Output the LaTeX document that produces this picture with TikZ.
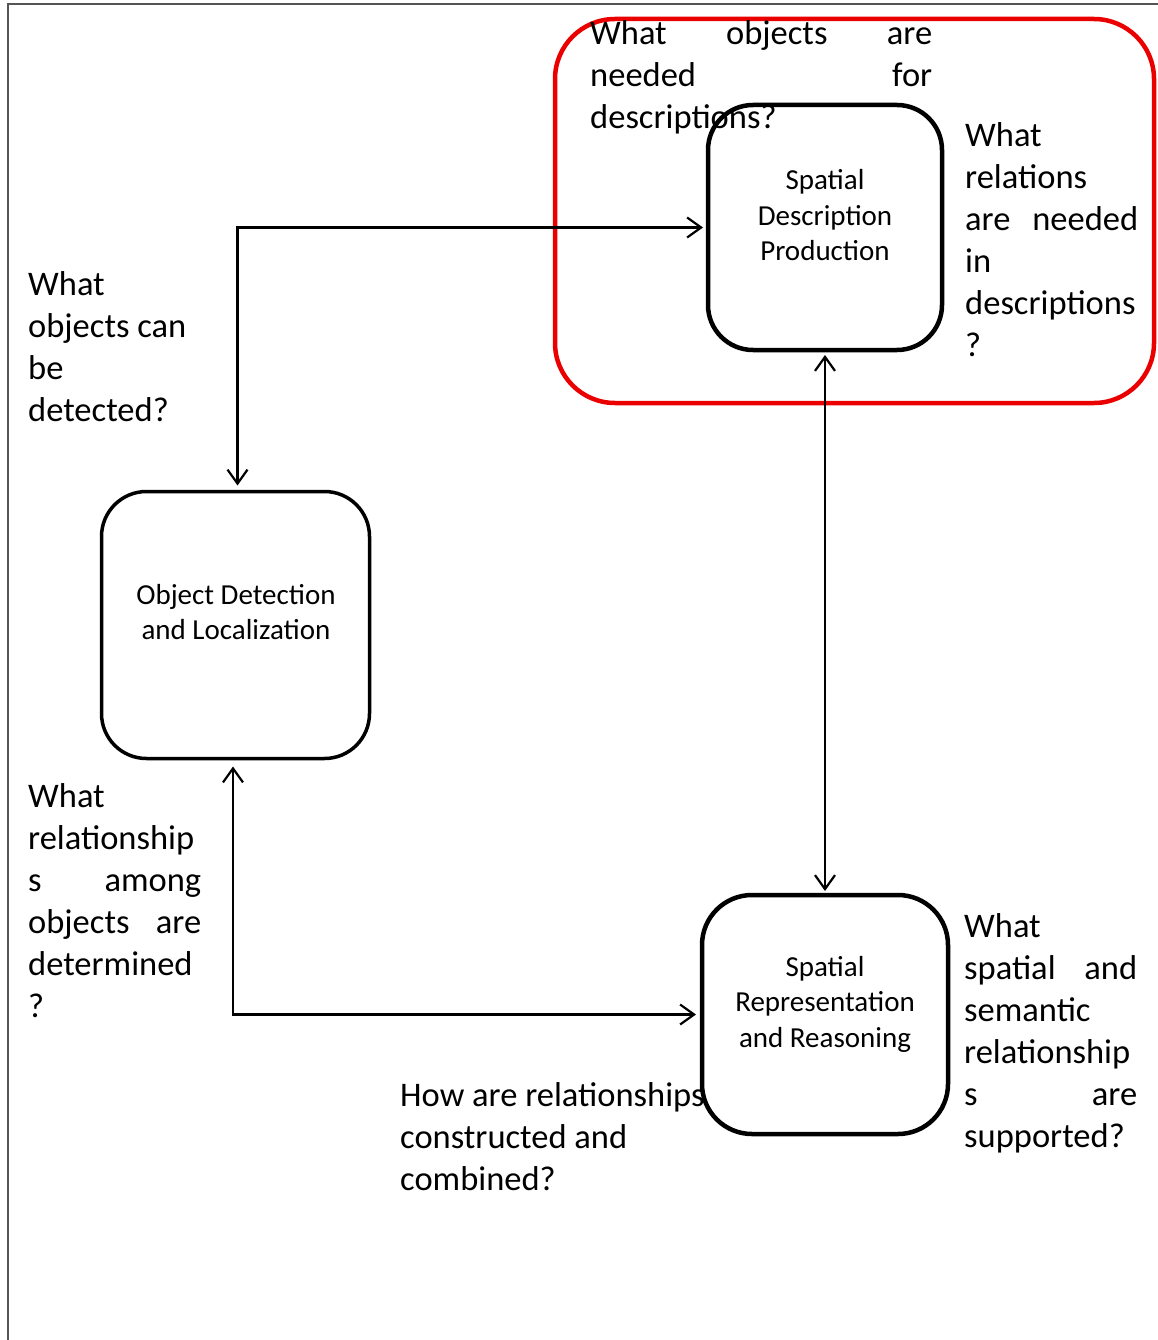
\documentclass[tikz,border=0pt]{standalone}
\usepackage{fontspec}
\setmainfont{Carlito}
\usetikzlibrary{arrows.meta}
\definecolor{framegray}{RGB}{85,85,85}
\definecolor{groupred}{RGB}{235,0,0}
\newcommand{\clines}[1]{\vtop{\halign{\hfil##\hfil\cr#1\crcr}}}
\newcommand{\llines}[1]{\vtop{\halign{##\hfil\cr#1\crcr}}}
\newcommand{\jline}[2]{\hbox to #1pt{#2}}
\begin{document}
\begin{tikzpicture}[x=1pt,y=-1pt,
  qtext/.style={anchor=base west, inner sep=0pt, font=\fontsize{34.5}{42}\selectfont},
  btext/.style={anchor=base, inner sep=0pt, font=\fontsize{29}{35.5}\selectfont},
  module/.style={draw, line width=4.5pt, rounded corners=45pt, inner sep=0pt, outer sep=0pt},
  arr/.style={line width=2.2pt, {Straight Barb[length=14pt,width=20pt]}-{Straight Barb[length=14pt,width=20pt]}},
]
\useasboundingbox (0,0) rectangle (1158,1340);
% page frame
\draw[framegray, line width=2.5pt] (8,1340) -- (8,4) -- (1158,4);

% group frame
\node[draw=groupred, line width=4.5pt, rounded corners=60pt, minimum width=599pt, minimum height=384pt, inner sep=0pt] (group) at (854.5,211) {};

% modules
\node[module, minimum width=234pt, minimum height=245pt] (sdp) at (825,227.5) {};
\node[module, line width=3.5pt, minimum width=268pt, minimum height=267pt] (odl) at (235.5,625) {};
\node[module, rounded corners=50pt, minimum width=246pt, minimum height=239pt] (srr) at (825,1014.5) {};

% module labels
\node[btext] (sdpt) at (825,190) {\clines{Spatial\cr Description\cr Production}};
\node[btext] (odlt) at (236,604) {\clines{Object Detection\cr and Localization}};
\node[btext] (srrt) at (825,976) {\clines{Spatial\cr Representation\cr and Reasoning}};

% questions
\node[qtext] (q1) at (590,45) {\llines{\jline{342}{What\hfill objects\hfill are}\cr \jline{342}{needed\hfill for}\cr descriptions?}};
\node[qtext] (q2) at (965,147) {\llines{What\cr relations\cr \jline{173}{are\hfill needed}\cr in\cr descriptions\cr ?}};
\node[qtext] (q3) at (28,295) {\llines{What\cr objects can\cr be\cr detected?}};
\node[qtext] (q4) at (28,807) {\llines{What\cr relationship\cr \jline{173}{s\hfill among}\cr \jline{173}{objects\hfill are}\cr determined\cr ?}};
\node[qtext] (q5) at (964,937) {\llines{What\cr \jline{173}{spatial\hfill and}\cr semantic\cr relationship\cr \jline{173}{s\hfill are}\cr supported?}};
\node[qtext] (q6) at (400,1106) {\llines{How are relationships\cr constructed and\cr combined?}};

% connectors
\draw[arr] ([xshift=2pt,yshift=6pt]odl.north) |- ([xshift=-5pt]sdp.west);
\draw[arr] ([yshift=-5pt]sdp.south) -- ([yshift=4pt]srr.north);
\draw[arr] ([xshift=-2.5pt,yshift=-8pt]odl.south) |- ([xshift=-6pt]srr.west);
\end{tikzpicture}
\end{document}
